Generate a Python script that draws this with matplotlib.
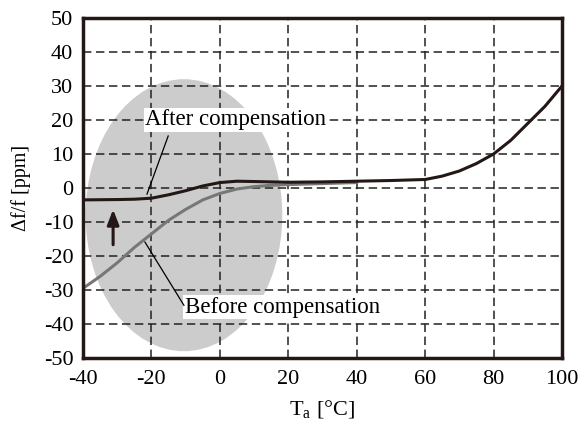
import numpy as np
import matplotlib.pyplot as plt
from matplotlib.patches import Ellipse

# curves
t_after = [-40, -30, -25, -20, -15, -10, -5, 0, 5, 10, 20, 30, 40, 50, 60, 65, 70, 75, 80, 85, 90, 95, 100]
df_after = [-3.5, -3.4, -3.3, -3.0, -2.0, -0.8, 0.6, 1.6, 2.0, 1.9, 1.7, 1.8, 2.0, 2.2, 2.5, 3.5, 5.0, 7.2, 10.0, 14.0, 19.0, 24.0, 30.0]
t_before = [-40, -35, -30, -25, -20, -15, -10, -5, 0, 5, 10, 15, 20, 30, 40]
df_before = [-29.5, -26.0, -22.0, -17.5, -13.5, -9.5, -6.3, -3.5, -1.6, -0.3, 0.4, 0.8, 1.0, 1.3, 1.6]

xticks = [-40, -20, 0, 20, 40, 60, 80, 100]
yticks = [-50, -40, -30, -20, -10, 0, 10, 20, 30, 40, 50]

plt.rcParams['font.family'] = ['Liberation Serif', 'DejaVu Serif']
plt.rcParams['mathtext.fontset'] = 'stix'
plt.rcParams['axes.unicode_minus'] = False

fig = plt.figure(figsize=(5.81, 4.25), dpi=100)
ax = fig.add_axes([83/581, 1 - 358/425, (562-83)/581, (358-18)/425])

ax.add_patch(Ellipse((-10.5, -8), 57.5, 80, facecolor='#cccccc', edgecolor='none', zorder=0))

ax.set_xlim(-40, 100)
ax.set_ylim(-50, 50)
ax.set_xticks(xticks)
ax.set_yticks(yticks)
ax.grid(True, color='#222222', linestyle=(0, (5.5, 3)), linewidth=1.1, zorder=1)
ax.set_axisbelow(False)
ax.tick_params(length=0, labelsize=16)
ax.tick_params(axis='x', pad=9)
ax.tick_params(axis='y', pad=7)
for s in ax.spines.values():
    s.set_linewidth(2.5)
    s.set_color('#231815')
    s.set_zorder(5)

ax.plot(t_before, df_before, color='#777777', linewidth=2.2, zorder=3)
ax.plot(t_after, df_after, color='#231815', linewidth=2.2, zorder=4)

ax.annotate('', xy=(-31.2, -5.5), xytext=(-31.2, -17.5),
            arrowprops=dict(arrowstyle='-|>,head_length=0.9,head_width=0.35', color='#231815', lw=2.2),
            zorder=4)

ax.text(-21.8, 20, 'After compensation', fontsize=16.5, va='center', ha='left',
        bbox=dict(facecolor='white', edgecolor='none', pad=1), zorder=6)
ax.plot([-15.1, -21.3], [15.3, -1.8], color='black', linewidth=0.9, zorder=6)

ax.text(-10.3, -35, 'Before compensation', fontsize=16.5, va='center', ha='left',
        bbox=dict(facecolor='white', edgecolor='none', pad=1), zorder=6)
ax.plot([-21.9, -10.5], [-15.9, -34.5], color='black', linewidth=0.9, zorder=6)

ax.set_ylabel('Δf/f [ppm]', fontsize=14.5, labelpad=9)
ax.set_xlabel('T$_{\\mathregular{a}}$ [°C]', fontsize=16, labelpad=6)

fig.savefig('out.png', dpi=100)
